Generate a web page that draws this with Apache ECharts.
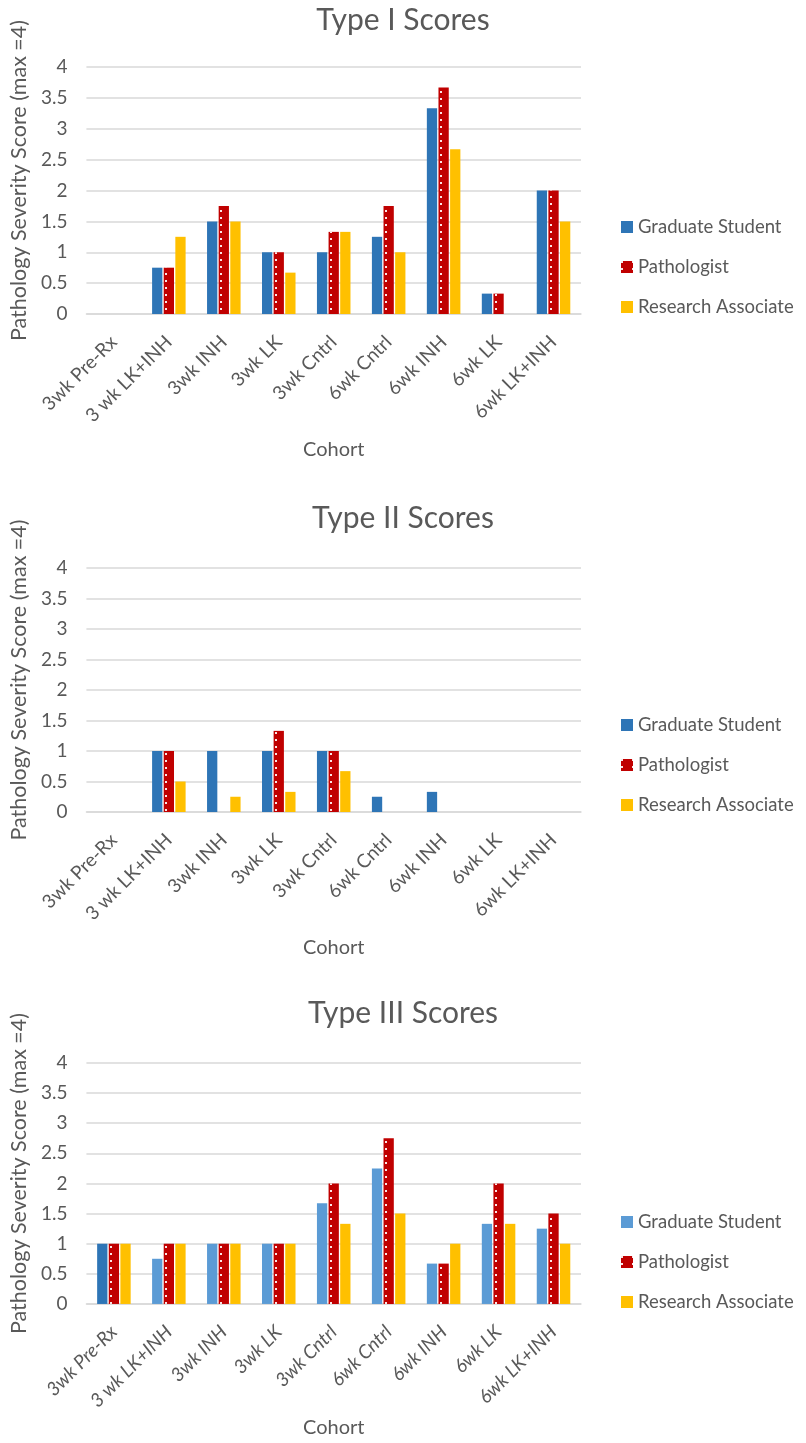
<!DOCTYPE html>
<html>
<head>
<meta charset="utf-8">
<script src="https://cdn.jsdelivr.net/npm/echarts@6/dist/echarts.min.js"></script>
<style>
  html, body { margin: 0; padding: 0; background: #ffffff; }
  .panel { position: absolute; left: 0; width: 806px; }
</style>
</head>
<body>
<div id="c1" class="panel" style="top:0px;height:480px"></div>
<div id="c2" class="panel" style="top:480px;height:500px"></div>
<div id="c3" class="panel" style="top:980px;height:463px"></div>
<script>
// Cohorts on the x axis (same for all three panels)
const categories = ['3wk Pre-Rx', '3 wk LK+INH', '3wk INH', '3wk LK', '3wk Cntrl', '6wk Cntrl', '6wk INH', '6wk LK', '6wk LK+INH'];
const seriesNames = ['Graduate Student', 'Pathologist', 'Research Associate'];
const yTicks = [0, 0.5, 1, 1.5, 2, 2.5, 3, 3.5, 4];

// Type I severity scores
const type1Grad = [0, 0.75, 1.5, 1, 1, 1.25, 3.33, 0.33, 2];
const type1Path = [0, 0.75, 1.75, 1, 1.33, 1.75, 3.67, 0.33, 2];
const type1Res  = [0, 1.25, 1.5, 0.67, 1.33, 1, 2.67, 0, 1.5];

// Type II severity scores
const type2Grad = [0, 1, 1, 1, 1, 0.25, 0.33, 0, 0];
const type2Path = [0, 1, 0, 1.33, 1, 0, 0, 0, 0];
const type2Res  = [0, 0.5, 0.25, 0.33, 0.67, 0, 0, 0, 0];

// Type III severity scores
const type3Grad = [1, 0.75, 1, 1, 1.67, 2.25, 0.67, 1.33, 1.25];
const type3Path = [1, 1, 1, 1, 2, 2.75, 0.67, 2, 1.5];
const type3Res  = [1, 1, 1, 1, 1.33, 1.5, 1, 1.33, 1];

const TEXT = '#595959';
const GRID_LINE = '#d9d9d9';
const FONT = 'Lato, "Open Sans", sans-serif';
const BLUE = '#2e75b6';
const LIGHT_BLUE = '#5b9bd5';
const RED = '#c00000';
const GOLD = '#ffc000';

// White dotted fill used for the pathologist bars
const dotDecal = {
  symbol: 'rect',
  symbolSize: 1,
  color: 'rgba(255,255,255,0.9)',
  dashArrayX: [2, 9],
  dashArrayY: [2, 5]
};

function makeChart(el, cfg) {
  const chart = echarts.init(document.getElementById(el), null, { renderer: 'canvas' });
  const barCommon = { type: 'bar', barCategoryGap: '39%', barGap: '13%' };
  chart.setOption({
    animation: false,
    backgroundColor: '#ffffff',
    textStyle: { fontFamily: FONT, color: TEXT },
    title: {
      text: cfg.title,
      left: 'center',
      top: cfg.titleTop,
      padding: 0,
      textStyle: { fontFamily: FONT, fontSize: 30, fontWeight: 'normal', color: TEXT }
    },
    legend: {
      orient: 'vertical',
      left: 621,
      top: cfg.legendTop,
      padding: 0,
      itemWidth: 12,
      itemHeight: 12,
      itemGap: 20,
      icon: 'rect',
      textStyle: { fontFamily: FONT, fontSize: 18.5, color: TEXT, lineHeight: 20 },
      data: seriesNames
    },
    grid: { left: 85, width: 496, top: cfg.gridTop, height: cfg.gridHeight, containLabel: false },
    xAxis: {
      type: 'category',
      data: categories,
      name: 'Cohort',
      nameLocation: 'middle',
      nameGap: cfg.xNameGap,
      nameTextStyle: { fontFamily: FONT, fontSize: 20, color: TEXT },
      axisLine: { lineStyle: { color: GRID_LINE, width: 1.5 } },
      axisTick: { show: false },
      axisLabel: {
        rotate: 45,
        interval: 0,
        margin: 25,
        fontFamily: FONT,
        fontSize: 19,
        fontStyle: cfg.italicLabels ? 'italic' : 'normal',
        color: TEXT
      }
    },
    yAxis: {
      type: 'value',
      min: yTicks[0],
      max: yTicks[yTicks.length - 1],
      interval: 0.5,
      name: 'Pathology Severity Score (max =4)',
      nameLocation: 'middle',
      nameGap: 48,
      nameTextStyle: { fontFamily: FONT, fontSize: 21.5, color: TEXT, padding: [0, 0, 0, 20] },
      axisLine: { show: false },
      axisTick: { show: false },
      axisLabel: { margin: 19, fontFamily: FONT, fontSize: 19, color: TEXT },
      splitLine: { lineStyle: { color: GRID_LINE, width: 1.5 } }
    },
    series: [
      Object.assign({}, barCommon, {
        name: seriesNames[0],
        itemStyle: { color: cfg.gradColor },
        data: cfg.grad.map((v, i) => (cfg.gradOverride && cfg.gradOverride[i])
          ? { value: v, itemStyle: { color: cfg.gradOverride[i] } }
          : v)
      }),
      Object.assign({}, barCommon, {
        name: seriesNames[1],
        itemStyle: { color: RED, decal: dotDecal },
        data: cfg.path
      }),
      Object.assign({}, barCommon, {
        name: seriesNames[2],
        itemStyle: { color: GOLD },
        data: cfg.res
      })
    ]
  });
  return chart;
}

makeChart('c1', {
  title: 'Type I Scores', titleTop: 5,
  gridTop: 67, gridHeight: 247, legendTop: 217, xNameGap: 126,
  grad: type1Grad, path: type1Path, res: type1Res, gradColor: BLUE
});

makeChart('c2', {
  title: 'Type II Scores', titleTop: 23,
  gridTop: 88, gridHeight: 244, legendTop: 235, xNameGap: 126,
  grad: type2Grad, path: type2Path, res: type2Res, gradColor: BLUE
});

makeChart('c3', {
  title: 'Type III Scores', titleTop: 18,
  gridTop: 83, gridHeight: 246, legendTop: 232, xNameGap: 113, italicLabels: true,
  grad: type3Grad, path: type3Path, res: type3Res, gradColor: LIGHT_BLUE,
  gradOverride: [BLUE]
});
</script>
</body>
</html>
